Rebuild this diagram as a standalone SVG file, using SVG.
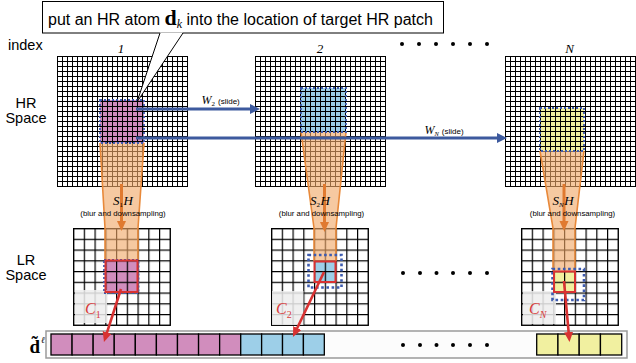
<svg xmlns="http://www.w3.org/2000/svg" width="636" height="363" viewBox="0 0 636 363">
  <defs>
    <!-- fine HR grid, 5px cells -->
    <pattern id="hr1" x="57" y="56" width="5" height="5" patternUnits="userSpaceOnUse"><path d="M0.5,0V5M0,0.5H5" stroke="#000" stroke-width="1"/></pattern>
    <pattern id="hr2" x="255" y="56" width="5" height="5" patternUnits="userSpaceOnUse"><path d="M0.5,0V5M0,0.5H5" stroke="#000" stroke-width="1"/></pattern>
    <pattern id="hrN" x="505" y="56" width="5" height="5" patternUnits="userSpaceOnUse"><path d="M0.5,0V5M0,0.5H5" stroke="#000" stroke-width="1"/></pattern>
    <!-- coarse LR grid, 9x9 cells -->
    <pattern id="lr1" x="73" y="228" width="10.75" height="10.75" patternUnits="userSpaceOnUse"><path d="M0.6,0V10.75M0,0.6H10.75" stroke="#000" stroke-width="1.2"/></pattern>
    <pattern id="lr2" x="271" y="228" width="10.75" height="10.75" patternUnits="userSpaceOnUse"><path d="M0.6,0V10.75M0,0.6H10.75" stroke="#000" stroke-width="1.2"/></pattern>
    <pattern id="lrN" x="521" y="228" width="10.75" height="10.75" patternUnits="userSpaceOnUse"><path d="M0.6,0V10.75M0,0.6H10.75" stroke="#000" stroke-width="1.2"/></pattern>
    <marker id="ahBlue" markerUnits="userSpaceOnUse" markerWidth="11" markerHeight="11" refX="2" refY="5" orient="auto"><path d="M0,0L10,5L0,10z" fill="#3d5a9e"/></marker>
    <marker id="ahOrange" markerUnits="userSpaceOnUse" markerWidth="11" markerHeight="11" refX="2" refY="4.5" orient="auto"><path d="M0,0L10,4.5L0,9z" fill="#e07a30"/></marker>
    <marker id="ahRed" markerUnits="userSpaceOnUse" markerWidth="11" markerHeight="11" refX="2" refY="4.5" orient="auto"><path d="M0,0L10,4.5L0,9z" fill="#d83232"/></marker>
  </defs>
  <style>
    .sans { font-family: "Liberation Sans", Arial, sans-serif; fill: #000; }
    .lbl { font-size: 14.5px; text-anchor: middle; }
    .math { font-family: "Liberation Serif", "Times New Roman", serif; font-style: italic; fill: #000; }
    .up { font-style: normal; }
    .bold { font-weight: bold; }
    .note { font-family: "Liberation Sans", Arial, sans-serif; font-size: 7.8px; text-anchor: middle; fill: #000; }
    .pink { fill: #d18dbd; }
    .blue { fill: #9dcfe8; }
    .yellow { fill: #f1f0a0; }
    .gridBorder { fill: none; stroke: #000; stroke-width: 1; }
    .lrBorder { fill: none; stroke: #000; stroke-width: 1.2; }
    .dots { fill: none; stroke: #3d5bb0; stroke-width: 1.8; stroke-dasharray: 2 2; }
    .dotsBig { fill: none; stroke: #3d5bb0; stroke-width: 2.6; stroke-dasharray: 2.6 2.6; }
    .redBox { fill: none; stroke: #d83232; stroke-width: 2; }
    .beam { fill: #f0a868; fill-opacity: 0.62; stroke: none; }
    .beamEdge { fill: none; stroke: #e8893a; stroke-width: 1.6; }
    .shade { fill: #eeeeee; fill-opacity: 0.86; }
    .cLbl { font-family: "Liberation Serif", "Times New Roman", serif; font-style: italic; fill: #d83c3c; font-size: 16px; }
    .dot { fill: #000; }
    .cell { stroke: #000; stroke-width: 1.3; }
    .blueArrow { stroke: #3d5a9e; stroke-width: 3; fill: none; }
    .orangeArrow { stroke: #e07a30; stroke-width: 3; fill: none; }
    .redArrow { stroke: #d83232; stroke-width: 2.6; fill: none; }
  </style>

  <rect width="636" height="363" fill="#fff"/>

  <!-- row / column labels -->
  <text class="sans" x="8" y="50" font-size="14.5">index</text>
  <text class="sans lbl" x="26" y="108">HR</text>
  <text class="sans lbl" x="26" y="123">Space</text>
  <text class="sans lbl" x="26" y="265">LR</text>
  <text class="sans lbl" x="26" y="280">Space</text>
  <text class="math" x="121" y="52.5" font-size="13" text-anchor="middle">1</text>
  <text class="math" x="320" y="52.5" font-size="13" text-anchor="middle">2</text>
  <text class="math" x="569.5" y="52.5" font-size="13" text-anchor="middle">N</text>

  <!-- column 1 -->
  <g id="hr-grid-1">
    <rect x="57" y="56" width="131" height="131" fill="#fff"/>
    <rect class="pink" x="100" y="100" width="44" height="43"/>
    <rect x="57" y="56" width="131" height="131" fill="url(#hr1)"/>
    <rect class="gridBorder" x="57.5" y="56.5" width="130" height="130"/>
  </g>
  <g id="lr-grid-1">
    <rect x="73" y="228" width="97" height="97" fill="#fff"/>
    <rect class="pink" x="105" y="260" width="33" height="33"/>
    <rect x="73" y="228" width="97" height="97" fill="url(#lr1)"/>
    <rect class="lrBorder" x="73.6" y="228.6" width="96.75" height="96.75"/>
    <rect class="shade" x="75" y="290" width="32" height="33"/>
    <text class="cLbl" x="85" y="314">C<tspan class="up" font-size="10" dy="4">1</tspan></text>
  </g>
  <g id="blur-1">
    <polygon class="beam" points="100,143 144,143 138,228 138,260 105,260 105,228"/>
    <polyline class="beamEdge" points="100,143 105,228 105,260"/>
    <polyline class="beamEdge" points="144,143 138,228 138,260"/>
    <rect class="dots" x="100" y="100" width="44" height="43"/>
    <rect class="dots" x="104" y="260" width="34.5" height="33"/>
    <rect class="redBox" x="105.5" y="260.5" width="32" height="31.5"/>
  </g>

  <!-- column 2 -->
  <g id="hr-grid-2">
    <rect x="255" y="56" width="131" height="131" fill="#fff"/>
    <rect class="blue" x="301" y="88" width="45" height="44"/>
    <rect x="255" y="56" width="131" height="131" fill="url(#hr2)"/>
    <rect class="gridBorder" x="255.5" y="56.5" width="130" height="130"/>
  </g>
  <g id="lr-grid-2">
    <rect x="271" y="228" width="97" height="97" fill="#fff"/>
    <rect class="blue" x="314" y="260.5" width="22" height="22"/>
    <rect x="271" y="228" width="97" height="97" fill="url(#lr2)"/>
    <rect class="lrBorder" x="271.6" y="228.6" width="96.75" height="96.75"/>
    <rect class="shade" x="272" y="291" width="31.5" height="34"/>
    <text class="cLbl" x="276" y="314">C<tspan class="up" font-size="10" dy="4">2</tspan></text>
  </g>
  <g id="blur-2">
    <polygon class="beam" points="301,132 346,132 336,228 336,261 314,261 314,228"/>
    <polyline class="beamEdge" points="301,132 314,228 314,261"/>
    <polyline class="beamEdge" points="346,132 336,228 336,261"/>
    <rect class="dots" x="301" y="88" width="45" height="44"/>
    <rect class="dotsBig" x="308.5" y="255" width="33" height="32.5"/>
    <rect class="redBox" x="314.5" y="261.5" width="21" height="20.5"/>
  </g>

  <!-- column N -->
  <g id="hr-grid-N">
    <rect x="505" y="56" width="131" height="131" fill="#fff"/>
    <rect class="yellow" x="540" y="108" width="44" height="43"/>
    <rect x="505" y="56" width="131" height="131" fill="url(#hrN)"/>
    <rect class="gridBorder" x="505.5" y="56.5" width="130" height="130"/>
  </g>
  <g id="lr-grid-N">
    <rect x="521" y="228" width="97" height="97" fill="#fff"/>
    <rect class="yellow" x="553" y="271" width="22" height="22"/>
    <rect x="521" y="228" width="97" height="97" fill="url(#lrN)"/>
    <rect class="lrBorder" x="521.6" y="228.6" width="96.75" height="96.75"/>
    <rect class="shade" x="523" y="291" width="33" height="33"/>
    <text class="cLbl" x="529" y="314">C<tspan font-size="10" dy="4">N</tspan></text>
  </g>
  <g id="blur-N">
    <polygon class="beam" points="540,151 584,151 575,228 575,271 553,271 553,228"/>
    <polyline class="beamEdge" points="540,151 553,228 553,271"/>
    <polyline class="beamEdge" points="584,151 575,228 575,271"/>
    <rect class="dots" x="540" y="108" width="44" height="43"/>
    <rect class="dotsBig" x="552.5" y="269" width="31.5" height="31"/>
    <rect class="redBox" x="554" y="271.5" width="21" height="20.5"/>
  </g>

  <!-- stacked LR patch vector -->
  <g id="vector">
    <rect x="46" y="331" width="581" height="27" fill="#fcfcfc" stroke="#9a9a9a" stroke-width="1.5"/>
    <g class="cell">
      <rect class="pink" x="51" y="334" width="21.08" height="21"/>
      <rect class="pink" x="72.08" y="334" width="21.08" height="21"/>
      <rect class="pink" x="93.16" y="334" width="21.08" height="21"/>
      <rect class="pink" x="114.24" y="334" width="21.08" height="21"/>
      <rect class="pink" x="135.32" y="334" width="21.08" height="21"/>
      <rect class="pink" x="156.4" y="334" width="21.08" height="21"/>
      <rect class="pink" x="177.48" y="334" width="21.08" height="21"/>
      <rect class="pink" x="198.56" y="334" width="21.08" height="21"/>
      <rect class="pink" x="219.64" y="334" width="21.08" height="21"/>
      <rect class="blue" x="240.72" y="334" width="20.9" height="21"/>
      <rect class="blue" x="261.62" y="334" width="20.9" height="21"/>
      <rect class="blue" x="282.52" y="334" width="20.9" height="21"/>
      <rect class="blue" x="303.42" y="334" width="20.9" height="21"/>
      <rect class="yellow" x="536.7" y="334" width="21.25" height="21"/>
      <rect class="yellow" x="557.95" y="334" width="21.25" height="21"/>
      <rect class="yellow" x="579.2" y="334" width="21.25" height="21"/>
      <rect class="yellow" x="600.45" y="334" width="21.25" height="21"/>
    </g>
    <text class="math up bold" x="29.5" y="352.5" font-size="19">d̃<tspan class="math" font-weight="normal" font-size="9" dx="1" dy="-10">ℓ</tspan></text>
  </g>

  <!-- ellipsis dots -->
  <g id="ellipsis">
    <circle class="dot" cx="402" cy="44" r="2"/><circle class="dot" cx="419" cy="44" r="2"/><circle class="dot" cx="436" cy="44" r="2"/><circle class="dot" cx="453" cy="44" r="2"/><circle class="dot" cx="470" cy="44" r="2"/><circle class="dot" cx="487" cy="44" r="2"/>
    <circle class="dot" cx="403" cy="273" r="2"/><circle class="dot" cx="420" cy="273" r="2"/><circle class="dot" cx="436.5" cy="273" r="2"/><circle class="dot" cx="453" cy="273" r="2"/><circle class="dot" cx="470" cy="273" r="2"/><circle class="dot" cx="487" cy="273" r="2"/>
    <circle class="dot" cx="403" cy="345" r="2"/><circle class="dot" cx="420" cy="345" r="2"/><circle class="dot" cx="436.5" cy="345" r="2"/><circle class="dot" cx="453" cy="345" r="2"/><circle class="dot" cx="470" cy="345" r="2"/><circle class="dot" cx="487" cy="345" r="2"/>
  </g>

  <!-- connectors -->
  <g id="connectors">
    <line class="blueArrow" x1="136" y1="109" x2="252" y2="109" marker-end="url(#ahBlue)"/>
    <line class="blueArrow" x1="136" y1="138" x2="499" y2="138" marker-end="url(#ahBlue)"/>
    <line class="orangeArrow" x1="121.5" y1="184" x2="121.5" y2="223" marker-end="url(#ahOrange)"/>
    <line class="orangeArrow" x1="324.5" y1="184" x2="324.5" y2="224" marker-end="url(#ahOrange)"/>
    <line class="orangeArrow" x1="564" y1="184" x2="564" y2="223" marker-end="url(#ahOrange)"/>
    <line class="redArrow" x1="121" y1="289" x2="106.4" y2="334.4" marker-end="url(#ahRed)"/>
    <line class="redArrow" x1="324" y1="272" x2="296.4" y2="329.8" marker-end="url(#ahRed)"/>
    <line class="redArrow" x1="564" y1="281" x2="568.8" y2="334" marker-end="url(#ahRed)"/>
  </g>

  <!-- operator labels -->
  <text class="math" x="201.5" y="103.5" font-size="12">W<tspan class="up" font-size="7" dy="2">2</tspan><tspan class="sans up" font-size="8" dx="3" dy="-2">(slide)</tspan></text>
  <text class="math" x="424.5" y="133.5" font-size="12">W<tspan font-size="6.5" dy="2">N</tspan><tspan class="sans up" font-size="8" dx="3" dy="-2">(slide)</tspan></text>
  <text class="math" x="113" y="205" font-size="13">S<tspan class="up" font-size="7" dy="2">1</tspan><tspan dy="-2" dx="0.5">H</tspan></text>
  <text class="note" x="123" y="215.5">(blur and downsampling)</text>
  <text class="math" x="310" y="205" font-size="13">S<tspan class="up" font-size="7" dy="2">2</tspan><tspan dy="-2" dx="0.5">H</tspan></text>
  <text class="note" x="321.5" y="215.5">(blur and downsampling)</text>
  <text class="math" x="552.5" y="205" font-size="13">S<tspan font-size="7" dy="2">N</tspan><tspan dy="-2" dx="0.5">H</tspan></text>
  <text class="note" x="572.5" y="215.5">(blur and downsampling)</text>

  <!-- callout -->
  <g id="callout">
    <rect x="42.5" y="1.5" width="401" height="31.5" fill="#fff" stroke="#000" stroke-width="1"/>
    <polygon points="160,32.4 183,32.4 137,102" fill="#fff"/>
    <path d="M160,33L137,102L183,33" fill="none" stroke="#000" stroke-width="1"/>
    <text class="sans" x="48" y="25" font-size="16">put an HR atom <tspan class="math up bold" font-size="22">d</tspan><tspan class="math" font-size="12" dy="3">k</tspan><tspan dy="-3"> into the location of target HR patch</tspan></text>
  </g>
</svg>
